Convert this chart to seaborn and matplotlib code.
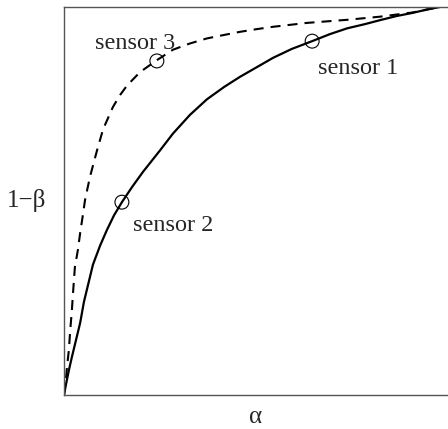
import numpy as np
import pandas as pd
import matplotlib
matplotlib.use('Agg')
import matplotlib.pyplot as plt
import seaborn as sns

# ROC curves (alpha, 1-beta)
alpha_solid = [0, 0.005, 0.013, 0.021, 0.032, 0.043, 0.053, 0.066, 0.077, 0.096, 0.114,
               0.133, 0.154, 0.181, 0.210, 0.255, 0.290, 0.335, 0.380, 0.426, 0.468,
               0.513, 0.556, 0.606, 0.660, 0.707, 0.753, 0.801, 0.840, 0.886, 0.928,
               0.968, 1.0]
power_solid = [0, 0.026, 0.064, 0.098, 0.142, 0.186, 0.240, 0.292, 0.336, 0.385, 0.425,
               0.463, 0.497, 0.536, 0.575, 0.630, 0.674, 0.722, 0.762, 0.794, 0.820,
               0.845, 0.869, 0.892, 0.912, 0.930, 0.945, 0.956, 0.966, 0.977, 0.985,
               0.994, 1.0]

alpha_dashed = [0, 0.005, 0.008, 0.013, 0.016, 0.021, 0.024, 0.029, 0.037, 0.043, 0.051,
                0.056, 0.069, 0.088, 0.104, 0.130, 0.149, 0.168, 0.202, 0.247, 0.290,
                0.335, 0.380, 0.426, 0.468, 0.513, 0.556, 0.646, 0.753, 0.840, 0.928,
                0.968, 1.0]
power_dashed = [0, 0.039, 0.072, 0.116, 0.160, 0.219, 0.263, 0.330, 0.374, 0.418, 0.469,
                0.503, 0.562, 0.631, 0.685, 0.742, 0.773, 0.798, 0.832, 0.863, 0.890,
                0.906, 0.919, 0.928, 0.936, 0.943, 0.949, 0.959, 0.967, 0.975, 0.986,
                0.994, 1.0]

# operating points of the sensors
sensor_names = ['sensor 1', 'sensor 2', 'sensor 3']
sensor_alpha = [0.660, 0.154, 0.247]
sensor_power = [0.912, 0.497, 0.861]

solid_df = pd.DataFrame({'alpha': alpha_solid, 'power': power_solid})
dashed_df = pd.DataFrame({'alpha': alpha_dashed, 'power': power_dashed})
sensor_df = pd.DataFrame({'name': sensor_names, 'alpha': sensor_alpha, 'power': sensor_power})

sns.set_style('white')
plt.rcParams['font.family'] = ['Liberation Serif', 'DejaVu Serif']

fig = plt.figure(figsize=(4.48, 4.29), dpi=100)
ax = fig.add_axes([64 / 448, 34 / 429, 384 / 448, 388 / 429])

sns.lineplot(data=solid_df, x='alpha', y='power', sort=False, ax=ax, color='black')
sns.lineplot(data=dashed_df, x='alpha', y='power', sort=False, ax=ax, color='black')
ax.lines[0].set_linewidth(1.6)
ax.lines[1].set_linewidth(1.5)
ax.lines[1].set_linestyle((0, (4.8, 3.4)))
sns.scatterplot(data=sensor_df, x='alpha', y='power', ax=ax, s=100, marker='o',
                facecolor='none', edgecolor='black', linewidth=0.8, zorder=5)

# labels next to the points
offsets = {'sensor 1': (0.015, -0.07), 'sensor 2': (0.03, -0.06), 'sensor 3': (-0.165, 0.045)}
for _, r in sensor_df.iterrows():
    dx, dy = offsets[r['name']]
    ax.text(r['alpha'] + dx, r['power'] + dy, r['name'], fontsize=17.5, ha='left', va='center')

ax.set_xlim(0, 1.0213)
ax.set_ylim(0, 1)
ax.set_xticks([])
ax.set_yticks([])
ax.set_xlabel('α', fontsize=18, labelpad=8)
ax.set_ylabel('1−β', fontsize=18, rotation=0, labelpad=27, va='center')
for side in ['left', 'bottom', 'top']:
    ax.spines[side].set_color('#555555')
    ax.spines[side].set_linewidth(1.0)
ax.spines['right'].set_visible(False)

fig.savefig('out.png', dpi=100)
